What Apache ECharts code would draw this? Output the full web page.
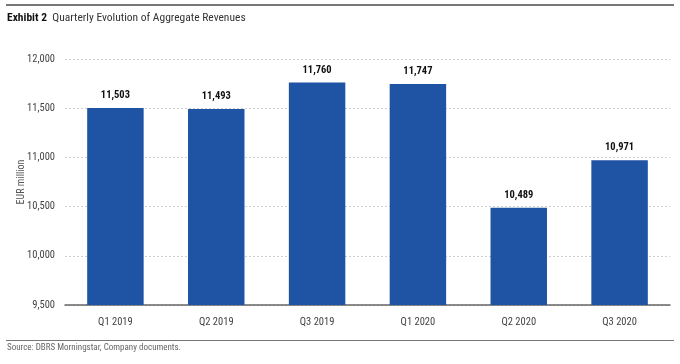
<!DOCTYPE html>
<html><head><meta charset="utf-8">
<script src="https://cdn.jsdelivr.net/npm/echarts@6/dist/echarts.min.js"></script>
<style>html,body{margin:0;padding:0;background:#fff}#c{width:680px;height:364px}</style>
</head><body><div id="c"></div>
<script>
var categories = ['Q1 2019','Q2 2019','Q3 2019','Q1 2020','Q2 2020','Q3 2020'];
var revenues = [11503, 11493, 11760, 11747, 10489, 10971];
var yTicks = [9500, 10000, 10500, 11000, 11500, 12000];

var FONT = '"Roboto Condensed","Liberation Sans",sans-serif';
var chart = echarts.init(document.getElementById('c'));
chart.setOption({
  animation: false,
  textStyle: {fontFamily: FONT},
  grid: {left: 65, right: 10, top: 59, bottom: 59, containLabel: false, outerBoundsMode: 'none'},
  xAxis: {
    type: 'category', data: categories,
    axisLine: {lineStyle: {color: '#666', width: 1.5}},
    axisTick: {show: false},
    axisLabel: {color: '#444', fontSize: 10.5, fontFamily: FONT, margin: 12}
  },
  yAxis: {
    type: 'value', min: yTicks[0], max: yTicks[yTicks.length-1], interval: 500,
    name: 'EUR million', nameLocation: 'middle', nameGap: 39, nameRotate: 90, nameMoveOverlap: false,
    nameTextStyle: {color: '#555', fontSize: 10, fontFamily: FONT},
    axisLine: {show: false}, axisTick: {show: false},
    axisLabel: {color: '#444', fontSize: 10.5, fontFamily: FONT, margin: 10,
      formatter: function(v){return v.toLocaleString('en-US');}},
    splitLine: {lineStyle: {color: '#d0d0d0', type: [2,2], width: 1}}
  },
  series: [{
    type: 'bar', data: revenues, barWidth: '56%',
    itemStyle: {color: '#1F53A4'},
    label: {show: true, position: 'top', distance: 7, color: '#111', fontSize: 10.5, fontWeight: 'bold', fontFamily: FONT,
      formatter: function(p){return p.value.toLocaleString('en-US');}}
  }],
  graphic: [
    {type: 'rect', shape: {x: 6, y: 4, width: 668, height: 2}, style: {fill: '#777'}},
    {type: 'text', left: 7, top: 12, style: {rich: {b: {fontWeight: 'bold', fontSize: 11.5, fill: '#111', fontFamily: FONT}, n: {fontSize: 11.5, fill: '#333', fontFamily: FONT}}, text: '{b|Exhibit 2}{n|  Quarterly Evolution of Aggregate Revenues}'}},
    {type: 'rect', shape: {x: 6, y: 340, width: 668, height: 1}, style: {fill: '#777'}},
    {type: 'text', left: 7, top: 343, style: {text: 'Source: DBRS Morningstar, Company documents.', fontSize: 9, fill: '#666', fontFamily: FONT}}
  ]
});
</script></body></html>
